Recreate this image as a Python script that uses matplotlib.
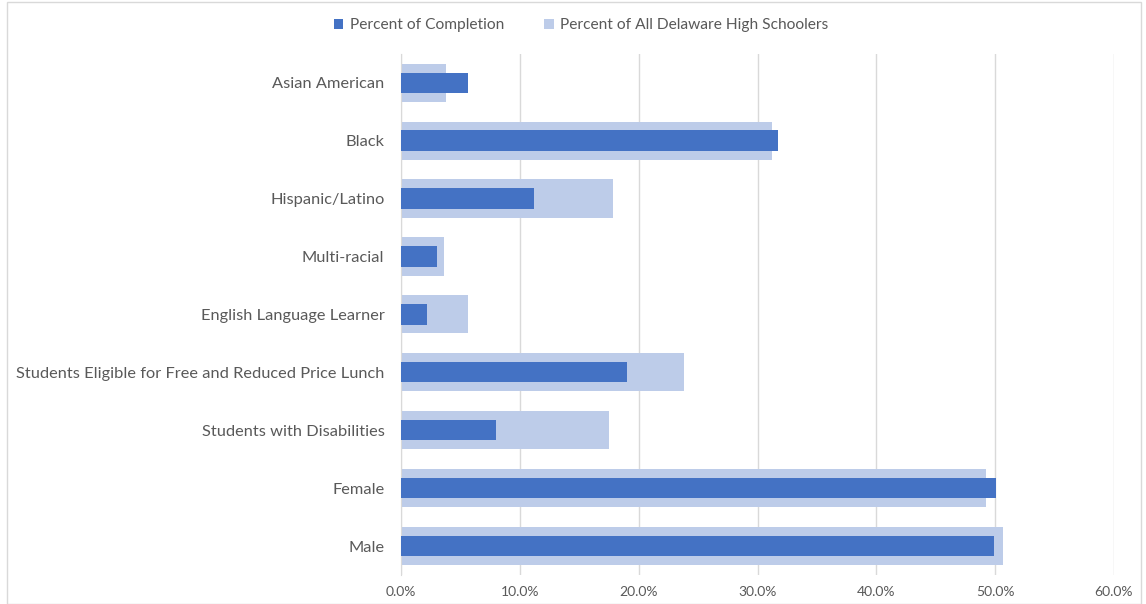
import numpy as np
import matplotlib.pyplot as plt
from matplotlib.ticker import FuncFormatter
from matplotlib.patches import Rectangle

plt.rcParams['font.family'] = ['Lato', 'DejaVu Sans']

grupos = ['Asian American', 'Black', 'Hispanic/Latino', 'Multi-racial',
          'English Language Learner',
          'Students Eligible for Free and Reduced Price Lunch',
          'Students with Disabilities', 'Female', 'Male']
completion = [5.6, 31.7, 11.2, 3.0, 2.2, 19.0, 8.0, 50.1, 49.9]
all_hs = [3.8, 31.2, 17.8, 3.6, 5.6, 23.8, 17.5, 49.2, 50.7]

def pct(x, pos):
    return '%1.1f%%' % x

fig = plt.figure(figsize=(11.46, 6.04), dpi=100)
ax = fig.add_axes([0.35, 0.048, 0.622, 0.863])

y = np.arange(len(grupos))
ax.barh(y, all_hs, 0.66, color='#BDCCE9', label='Percent of All Delaware High Schoolers', zorder=2)
ax.barh(y, completion, 0.35, color='#4472C4', label='Percent of Completion', zorder=3)

ax.set_xlim(0, 60)
ax.set_ylim(len(grupos) - 0.5, -0.5)
ax.set_xticks(np.arange(0, 61, 10))
ax.xaxis.set_major_formatter(FuncFormatter(pct))
ax.set_yticks(y)
ax.set_yticklabels(grupos)
ax.xaxis.grid(True, color='#D9D9D9', linewidth=1, zorder=0)
ax.set_axisbelow(True)
for s in ['top', 'right', 'bottom']:
    ax.spines[s].set_visible(False)
ax.spines['left'].set_color('#D9D9D9')
ax.tick_params(axis='both', length=0, colors='#595959')
ax.tick_params(axis='x', labelsize=10, pad=8)
ax.tick_params(axis='y', labelsize=11.8, pad=12)

h, l = ax.get_legend_handles_labels()
fig.legend(h[::-1], l[::-1], loc='center', bbox_to_anchor=(0.507, 0.958), ncol=2,
           frameon=False, fontsize=11.2, handlelength=0.6, handleheight=0.6,
           columnspacing=2.6, labelcolor='#595959', handletextpad=0.4)

fig.patches.append(Rectangle((0.006, 0.0), 0.99, 0.997, transform=fig.transFigure,
                             fill=False, edgecolor='#D9D9D9', linewidth=1))

plt.savefig('out.png', dpi=100)
